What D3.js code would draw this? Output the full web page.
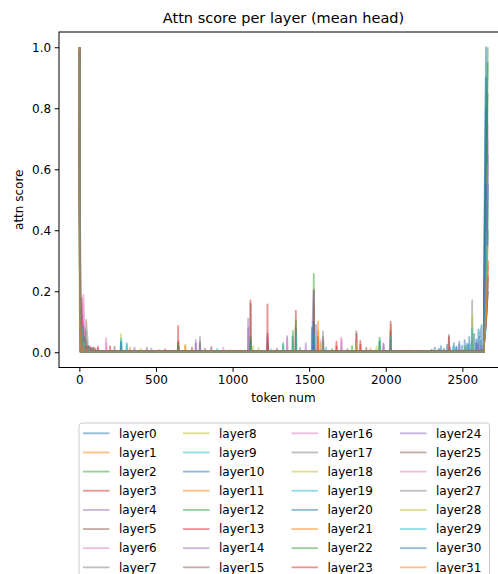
<!DOCTYPE html>
<html>
<head>
<meta charset="utf-8">
<script src="https://cdn.jsdelivr.net/npm/d3@7"></script>
<style>
  body { margin: 0; background: #fff; }
  svg { display: block; font-family: "DejaVu Sans", sans-serif; }
</style>
</head>
<body>
<svg id="chart" width="498" height="574"></svg>
<script>
// layer names, also the legend labels
const layerNames = [
  "layer0", "layer1", "layer2", "layer3", "layer4", "layer5", "layer6", "layer7",
  "layer8", "layer9", "layer10", "layer11", "layer12", "layer13", "layer14", "layer15",
  "layer16", "layer17", "layer18", "layer19", "layer20", "layer21", "layer22", "layer23",
  "layer24", "layer25", "layer26", "layer27", "layer28", "layer29", "layer30", "layer31"
];
const xTicks = [0, 500, 1000, 1500, 2000, 2500];
const yTicks = [0.0, 0.2, 0.4, 0.6, 0.8, 1.0];
const tab10 = ["#1f77b4", "#ff7f0e", "#2ca02c", "#d62728", "#9467bd",
               "#8c564b", "#e377c2", "#7f7f7f", "#bcbd22", "#17becf"];

// score of the resting level, per layer
const baseScore = [0.002, 0.0015, 0.001, 0.002, 0.0025, 0.003, 0.0015, 0.002,
                   0.001, 0.002, 0.0025, 0.0015, 0.001, 0.002, 0.003, 0.0025,
                   0.0015, 0.002, 0.001, 0.0025, 0.002, 0.0015, 0.001, 0.002,
                   0.003, 0.0025, 0.0015, 0.002, 0.001, 0.002, 0.0025, 0.003];
// score on token 0, per layer
const sinkScore = [1.0, 0.98, 1.0, 0.99, 1.0, 1.0, 0.97, 1.0, 0.99, 1.0, 1.0, 0.98, 1.0, 1.0, 0.99, 1.0,
                   1.0, 0.98, 1.0, 0.99, 1.0, 1.0, 0.97, 1.0, 0.99, 1.0, 1.0, 0.98, 1.0, 1.0, 0.99, 1.0];
// first ~100 tokens, [token, score] per layer
const earlyScores = [
  [[4, 0.12], [12, 0.09], [25, 0.04], [45, 0.02], [80, 0.012]],
  [[6, 0.1], [16, 0.08], [30, 0.05], [55, 0.02], [95, 0.015]],
  [[3, 0.2], [8, 0.15], [20, 0.06], [38, 0.025], [70, 0.012]],
  [[5, 0.13], [14, 0.177], [24, 0.07], [48, 0.02], [88, 0.015]],
  [[4, 0.09], [15, 0.11], [34, 0.08], [60, 0.02], [100, 0.01]],
  [[6, 0.1], [18, 0.12], [40, 0.07], [62, 0.018], [105, 0.012]],
  [[8, 0.12], [20, 0.16], [26, 0.188], [35, 0.06], [70, 0.02]],
  [[5, 0.08], [20, 0.1], [44, 0.106], [55, 0.03], [90, 0.015]],
  [[3, 0.08], [12, 0.06], [30, 0.04], [50, 0.03], [85, 0.012]],
  [[4, 0.11], [18, 0.12], [32, 0.05], [52, 0.02], [78, 0.01]],
  [[5, 0.15], [13, 0.08], [28, 0.03], [60, 0.015]],
  [[4, 0.09], [18, 0.1], [36, 0.045], [66, 0.015]],
  [[6, 0.17], [14, 0.1], [30, 0.04], [58, 0.018]],
  [[7, 0.14], [16, 0.12], [32, 0.045], [74, 0.015]],
  [[5, 0.1], [22, 0.08], [42, 0.03], [82, 0.012]],
  [[4, 0.12], [12, 0.14], [28, 0.05], [64, 0.015]],
  [[6, 0.13], [22, 0.16], [36, 0.05], [68, 0.015]],
  [[5, 0.1], [25, 0.09], [46, 0.04], [84, 0.012]],
  [[4, 0.09], [14, 0.07], [30, 0.03], [56, 0.012]],
  [[6, 0.12], [16, 0.09], [34, 0.03], [62, 0.012]],
  [[3, 0.14], [10, 0.1], [24, 0.04], [50, 0.015]],
  [[5, 0.11], [20, 0.07], [40, 0.025], [72, 0.01]],
  [[4, 0.15], [12, 0.09], [26, 0.035], [54, 0.012]],
  [[6, 0.12], [18, 0.1], [34, 0.04], [66, 0.012]],
  [[5, 0.1], [20, 0.07], [38, 0.03], [70, 0.01]],
  [[4, 0.11], [14, 0.09], [30, 0.04], [58, 0.012]],
  [[6, 0.13], [18, 0.11], [32, 0.04], [62, 0.012]],
  [[5, 0.1], [16, 0.08], [36, 0.05], [76, 0.012]],
  [[4, 0.09], [12, 0.07], [28, 0.03], [52, 0.01]],
  [[6, 0.11], [16, 0.07], [30, 0.03], [60, 0.01]],
  [[5, 0.1], [14, 0.06], [28, 0.02], [50, 0.008]],
  [[4, 0.09], [12, 0.05], [26, 0.02], [48, 0.008]]
];
// isolated peaks: [token, layer, score]
const spikes = [
  [120, 6, 0.02], [122, 13, 0.015], [174, 6, 0.046], [176, 26, 0.03], [200, 3, 0.02],
  [230, 5, 0.018], [272, 8, 0.059], [273, 9, 0.045], [271, 20, 0.035], [274, 0, 0.03],
  [309, 9, 0.031], [310, 19, 0.025], [330, 1, 0.015], [360, 4, 0.015], [400, 18, 0.012],
  [440, 5, 0.015], [470, 14, 0.012], [520, 21, 0.008], [560, 3, 0.01],
  [645, 3, 0.086], [646, 13, 0.035], [644, 22, 0.03], [647, 10, 0.02],
  [690, 8, 0.025], [692, 11, 0.02], [735, 23, 0.015], [760, 4, 0.04], [761, 24, 0.03],
  [787, 7, 0.05], [788, 17, 0.035], [786, 14, 0.03], [820, 5, 0.012], [860, 22, 0.015],
  [862, 26, 0.018], [900, 9, 0.012], [940, 6, 0.015], [985, 28, 0.008], [1050, 21, 0.006],
  [1102, 4, 0.11], [1103, 14, 0.08], [1117, 3, 0.17], [1118, 5, 0.16], [1116, 12, 0.05],
  [1119, 0, 0.04], [1115, 9, 0.03], [1135, 8, 0.02], [1170, 18, 0.015],
  [1228, 3, 0.157], [1229, 13, 0.06], [1227, 4, 0.05], [1230, 25, 0.03],
  [1250, 9, 0.01], [1290, 15, 0.012], [1330, 2, 0.03], [1331, 9, 0.025],
  [1356, 4, 0.053], [1357, 16, 0.045], [1392, 0, 0.05], [1394, 12, 0.07],
  [1413, 3, 0.136], [1414, 12, 0.105], [1412, 5, 0.08], [1415, 19, 0.06],
  [1440, 7, 0.015], [1478, 14, 0.03], [1518, 10, 0.08], [1520, 4, 0.06],
  [1530, 2, 0.257], [1531, 5, 0.205], [1529, 4, 0.2], [1532, 1, 0.15], [1528, 20, 0.1], [1533, 9, 0.06],
  [1545, 14, 0.09], [1558, 1, 0.1], [1559, 11, 0.07], [1557, 3, 0.05],
  [1575, 6, 0.04], [1576, 8, 0.03], [1591, 7, 0.068], [1590, 5, 0.05], [1592, 17, 0.04],
  [1610, 9, 0.015], [1650, 22, 0.01], [1678, 3, 0.035], [1679, 13, 0.02],
  [1710, 6, 0.049], [1711, 4, 0.04], [1750, 25, 0.01], [1780, 12, 0.02],
  [1808, 5, 0.068], [1809, 3, 0.06], [1807, 8, 0.03], [1834, 3, 0.037], [1835, 23, 0.025],
  [1873, 15, 0.015], [1900, 1, 0.012], [1940, 8, 0.02], [1960, 2, 0.048], [1961, 9, 0.04],
  [1959, 12, 0.035], [1985, 4, 0.03], [1986, 24, 0.025],
  [2032, 3, 0.1], [2033, 1, 0.09], [2031, 5, 0.07], [2034, 9, 0.05], [2030, 0, 0.04],
  [2080, 14, 0.005], [2150, 8, 0.006], [2220, 18, 0.005], [2300, 12, 0.008], [2350, 7, 0.01],
  [2412, 5, 0.057], [2413, 3, 0.05], [2440, 9, 0.02], [2480, 4, 0.025], [2520, 2, 0.02],
  [2564, 7, 0.171], [2565, 8, 0.12], [2563, 9, 0.08], [2566, 5, 0.06],
  [2600, 4, 0.03], [2601, 14, 0.025], [2625, 6, 0.02],
  // layer0 rises towards the end
  [2300, 0, 0.008], [2320, 0, 0.015], [2345, 0, 0.01], [2360, 0, 0.02], [2380, 0, 0.012],
  [2400, 0, 0.025], [2420, 0, 0.014], [2445, 0, 0.03], [2462, 0, 0.018], [2480, 0, 0.035],
  [2498, 0, 0.022], [2515, 0, 0.04], [2530, 0, 0.028], [2545, 0, 0.05], [2560, 0, 0.032],
  [2578, 0, 0.06], [2592, 0, 0.042], [2605, 0, 0.075], [2616, 0, 0.05], [2626, 0, 0.09],
  [2460, 10, 0.015], [2540, 10, 0.025], [2590, 20, 0.03], [2612, 10, 0.05], [2620, 30, 0.04]
];
// last tokens of the sequence
const endTokens = [2642, 2654, 2666];
const endScores = [
  [0.3, 1.0, 0.6], [0.05, 0.2, 0.35], [0.1, 0.5, 1.0], [0.04, 0.15, 0.3],
  [0.06, 0.3, 0.65], [0.05, 0.12, 0.25], [0.08, 0.4, 0.75], [0.03, 0.1, 0.2],
  [0.05, 0.2, 0.45], [0.06, 0.25, 0.4], [0.2, 0.9, 0.5], [0.04, 0.15, 0.3],
  [0.1, 0.6, 0.95], [0.04, 0.12, 0.28], [0.05, 0.35, 0.6], [0.03, 0.1, 0.22],
  [0.07, 0.4, 0.7], [0.03, 0.1, 0.2], [0.04, 0.18, 0.5], [0.05, 0.2, 0.55],
  [0.15, 0.8, 0.45], [0.04, 0.15, 0.3], [0.08, 0.45, 0.85], [0.03, 0.12, 0.25],
  [0.05, 0.3, 0.55], [0.03, 0.1, 0.24], [0.06, 0.35, 0.62], [0.03, 0.09, 0.2],
  [0.04, 0.15, 0.4], [0.05, 0.2, 0.45], [0.1, 0.55, 0.35], [0.03, 0.12, 0.26]
];

// axes box (right spine sits off the canvas, like the cropped original)
const plotLeft = 59, plotRight = 508, plotTop = 32, plotBottom = 367.5;

const x = d3.scaleLinear().domain([-133, 2798]).range([plotLeft, plotRight]);
const y = d3.scaleLinear().domain([-0.05, 1.05]).range([plotBottom, plotTop]);

const svg = d3.select('#chart');

// put together one layer: peaks fall back to the resting level between them
function layerPoints(i) {
  let pts = [[0, sinkScore[i]]]
    .concat(earlyScores[i])
    .concat(spikes.filter(s => s[1] === i).map(s => [s[0], s[2]]))
    .concat(endScores[i].map((v, k) => [endTokens[k], v]));
  pts.sort((a, b) => a[0] - b[0]);
  let out = [];
  pts.forEach((p, k) => {
    if (k > 0) {
      let prev = pts[k - 1];
      if (p[0] - prev[0] > 12) {
        out.push([prev[0] + 2, baseScore[i]]);
        out.push([p[0] - 2, baseScore[i]]);
      }
    }
    out.push(p);
  });
  return out;
}

svg.append('defs').append('clipPath').attr('id', 'plotclip')
  .append('rect')
    .attr('x', plotLeft).attr('y', plotTop)
    .attr('width', plotRight - plotLeft).attr('height', plotBottom - plotTop);

const line = d3.line()
  .x(d => x(d[0]))
  .y(d => y(d[1]));

svg.append('g')
    .attr('clip-path', 'url(#plotclip)')
  .selectAll('path')
  .data(layerNames)
  .enter().append('path')
    .attr('d', (d, i) => line(layerPoints(i)))
    .attr('fill', 'none')
    .attr('stroke', (d, i) => tab10[i % 10])
    .attr('stroke-opacity', 0.5)
    .attr('stroke-width', 1.8)
    .attr('stroke-linejoin', 'round');

// axes
const xAxis = svg.append('g')
    .attr('transform', `translate(0,${plotBottom})`)
    .call(d3.axisBottom(x).tickValues(xTicks).tickFormat(d3.format('d')).tickSizeInner(4.3).tickSizeOuter(0).tickPadding(3.5));
const yAxis = svg.append('g')
    .attr('transform', `translate(${plotLeft},0)`)
    .call(d3.axisLeft(y).tickValues(yTicks).tickFormat(d3.format('.1f')).tickSizeInner(4.3).tickSizeOuter(0).tickPadding(3.5));

[xAxis, yAxis].forEach(g => {
  g.select('.domain').remove();
  g.selectAll('text').attr('font-size', 12).attr('fill', '#000').attr('font-family', 'DejaVu Sans');
  g.selectAll('line').attr('stroke', '#000').attr('stroke-width', 1);
});

// spines
svg.append('rect')
    .attr('x', plotLeft).attr('y', plotTop)
    .attr('width', plotRight - plotLeft).attr('height', plotBottom - plotTop)
    .attr('fill', 'none').attr('stroke', '#000').attr('stroke-width', 1);

svg.append('text')
    .attr('x', (plotLeft + plotRight) / 2).attr('y', 23)
    .attr('text-anchor', 'middle').attr('font-size', 14.5)
    .text('Attn score per layer (mean head)');

svg.append('text')
    .attr('x', (plotLeft + plotRight) / 2).attr('y', 402)
    .attr('text-anchor', 'middle').attr('font-size', 12)
    .text('token num');

svg.append('text')
    .attr('transform', `translate(22.5,${(plotTop + plotBottom) / 2}) rotate(-90)`)
    .attr('text-anchor', 'middle').attr('font-size', 12)
    .text('attn score');

// legend, 4 columns of 8
const legendCols = [83, 183, 291.5, 400];
const legendTop = 423, rowStep = 19.15;

svg.append('rect')
    .attr('x', 79).attr('y', legendTop)
    .attr('width', 410.5).attr('height', 175)
    .attr('rx', 3)
    .attr('fill', '#fff').attr('fill-opacity', 0.8)
    .attr('stroke', '#cccccc').attr('stroke-width', 1);

const item = svg.append('g').selectAll('g')
  .data(layerNames)
  .enter().append('g')
    .attr('transform', (d, i) => `translate(${legendCols[Math.floor(i / 8)]},${legendTop + 10.3 + (i % 8) * rowStep})`);

item.append('line')
    .attr('x1', 0).attr('x2', 26.5)
    .attr('stroke', (d, i) => tab10[i % 10])
    .attr('stroke-opacity', 0.5)
    .attr('stroke-width', 1.8);

item.append('text')
    .attr('x', 36).attr('dy', '0.35em')
    .attr('font-size', 12)
    .text(d => d);
</script>
</body>
</html>
